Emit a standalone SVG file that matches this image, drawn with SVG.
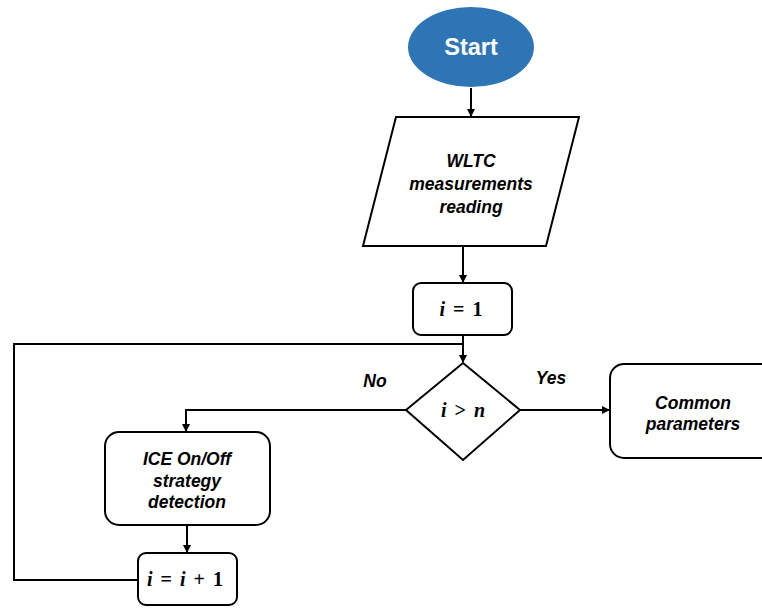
<svg xmlns="http://www.w3.org/2000/svg" width="762" height="608" viewBox="0 0 762 608">
<defs>
<marker id="ah" markerWidth="8" markerHeight="8" refX="7" refY="4" orient="auto" markerUnits="userSpaceOnUse">
<path d="M0,0 L8,4 L0,8 Z" fill="#000"/>
</marker>
<style>
.shape{fill:#fff;stroke:#000;stroke-width:2}
.lbl{font-family:"Liberation Sans",Arial,sans-serif;font-weight:bold;font-style:italic;font-size:17.5px;text-anchor:middle;fill:#000}
.math{font-family:"Liberation Serif","DejaVu Serif",serif;font-weight:bold;font-size:20px;text-anchor:middle;fill:#000;word-spacing:3px}
.it{font-style:italic}
.conn{fill:none;stroke:#000;stroke-width:2}
</style>
</defs>
<rect width="762" height="608" fill="#fff"/>
<g id="connectors">
<path class="conn" d="M471,88 V116" marker-end="url(#ah)"/>
<path class="conn" d="M463,246 V282" marker-end="url(#ah)"/>
<path class="conn" d="M463,335 V362" marker-end="url(#ah)"/>
<path class="conn" d="M138,580 H14 V344 H463"/>
<path class="conn" d="M520,410 H609" marker-end="url(#ah)"/>
<path class="conn" d="M406,410 H186 V431" marker-end="url(#ah)"/>
<path class="conn" d="M187,525 V552" marker-end="url(#ah)"/>
<text class="lbl" x="375" y="387">No</text>
<text class="lbl" x="551" y="384">Yes</text>
</g>
<g id="start">
<ellipse cx="471" cy="47" rx="63" ry="40" fill="#2E75B6"/>
<text x="471" y="55" font-family="Liberation Sans,Arial,sans-serif" font-weight="bold" font-size="23.5" fill="#fff" text-anchor="middle">Start</text>
</g>
<g id="wltc">
<polygon class="shape" points="396,117 579,117 546,246 363,246"/>
<text class="lbl" x="471" y="167">WLTC</text>
<text class="lbl" x="471" y="190">measurements</text>
<text class="lbl" x="471" y="213">reading</text>
</g>
<g id="init">
<rect class="shape" x="413" y="283" width="99" height="52" rx="8"/>
<text class="math" x="461" y="316"><tspan class="it">i</tspan> = 1</text>
</g>
<g id="decision">
<polygon class="shape" points="463,363 520,410 463,460 406,410"/>
<text class="math" x="463" y="417"><tspan class="it">i</tspan> &gt; <tspan class="it">n</tspan></text>
</g>
<g id="common">
<rect class="shape" x="610" y="364" width="170" height="94" rx="14"/>
<text class="lbl" x="693" y="409">Common</text>
<text class="lbl" x="693" y="430">parameters</text>
</g>
<g id="ice">
<rect class="shape" x="105" y="432" width="165" height="93" rx="14"/>
<text class="lbl" x="187" y="465">ICE On/Off</text>
<text class="lbl" x="187" y="487">strategy</text>
<text class="lbl" x="187" y="508">detection</text>
</g>
<g id="incr">
<rect class="shape" x="138" y="553" width="99" height="52" rx="8"/>
<text class="math" x="185" y="586"><tspan class="it">i</tspan> = <tspan class="it">i</tspan> + 1</text>
</g>
</svg>
